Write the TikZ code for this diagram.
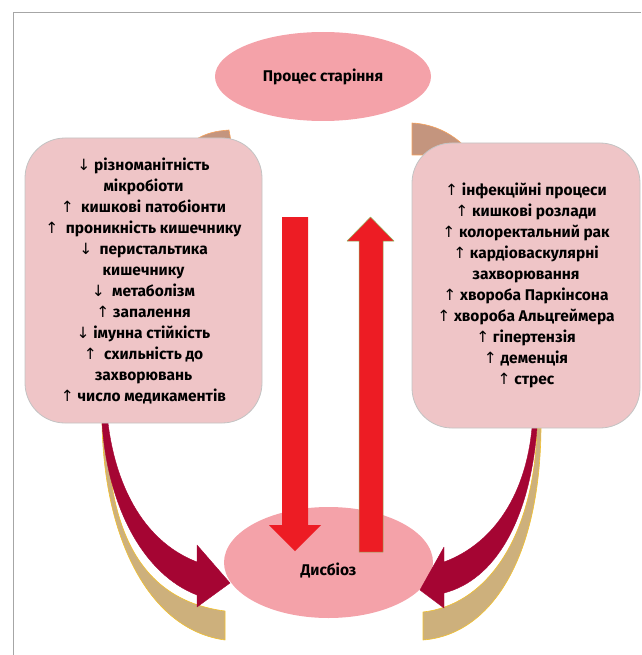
\documentclass[tikz,border=0pt]{standalone}
\usepackage{fontspec}
\setmainfont{Fira Sans}
\newfontfamily\arrowfont{DejaVu Sans}
\usetikzlibrary{shapes.geometric}

\newcommand{\arrup}{{\arrowfont\mdseries ↑}}
\newcommand{\arrdn}{{\arrowfont\mdseries ↓}}

\definecolor{ellpink}{HTML}{F4A2A9}
\definecolor{boxpink}{HTML}{EFC5C7}
\definecolor{boxline}{HTML}{C3C3C3}
\definecolor{arrowred}{HTML}{ED1C24}
\definecolor{arrowgreen}{HTML}{8DB35A}
\definecolor{wine}{HTML}{A50533}
\definecolor{sand}{HTML}{CDB07C}
\definecolor{sandline}{HTML}{F2C12E}
\definecolor{clay}{HTML}{C4957E}
\definecolor{clayline}{HTML}{F5A25D}
\definecolor{framegray}{HTML}{A6A6A6}

\tikzset{
  ell/.style={ellipse, fill=ellpink, draw=none, inner sep=0pt,
    font=\bfseries\fontsize{15.5}{18}\selectfont},
  listbox/.style={rectangle, rounded corners=40pt, fill=boxpink, draw=boxline,
    line width=0.8pt, align=center, inner sep=0pt,
    font=\bfseries\fontsize{15.5}{21}\selectfont},
  bigarrow/.style={fill=arrowred},
  curvearrow/.style={fill=wine, draw=wine, line width=0.4pt},
  curveband/.style={fill=sand, draw=sandline, line width=0.6pt},
  topband/.style={fill=clay, draw=clayline, line width=0.6pt},
}

\begin{document}
\begin{tikzpicture}[x=1pt,y=-1pt,line join=round]
\useasboundingbox (0,0) rectangle (641,655);
%% frame
\draw[framegray, line width=1pt] (13,655) -- (13,13) -- (641,13);
%% ellipses
\node (ageing) at (323,76.5) [ell, minimum width=216, minimum height=89] {Процес старіння};
\node (dysb) at (328.5,562.5) [ell, minimum width=209, minimum height=111,
  text height=28pt, text depth=3pt] {Дисбіоз};
%% pieces behind the boxes
\draw[topband] (195,140) .. controls (206,133) and (216,131) .. (229,130) -- (231,141) -- cycle;
\draw[topband] (412,123) .. controls (435,124) and (455,135) .. (468,150) -- (468,155) -- (412,155) -- cycle;
%% left curved arrow
\draw[curveband] (102,423) .. controls (104,540) and (150,630) .. (225,640)
  -- (225,611) .. controls (140,600) and (108,530) .. (107,423) -- cycle;
\draw[curvearrow] (102,423) .. controls (108,510) and (145,575) .. (197,595)
  -- (197,607) -- (230,583) -- (197,545) -- (197,562)
  .. controls (140,540) and (115,480) .. (108,423) -- cycle;
%% right curved arrow
\draw[curveband] (541,428) .. controls (540,560) and (490,635) .. (423,640)
  -- (423,612) .. controls (485,605) and (534,540) .. (537,428) -- cycle;
\draw[curvearrow] (537,428) .. controls (530,520) and (495,580) .. (444,593)
  -- (444,608) -- (420,590) -- (444,547) -- (444,562)
  .. controls (490,545) and (525,500) .. (532,428) -- cycle;
%% boxes
\node (causes) at (143.5,280.5) [listbox, minimum width=237, minimum height=285]
  {\arrdn{} різноманітність\\ мікробіоти\\ \arrup\ \ кишкові патобіонти\\
   \arrup\ \ проникність кишечнику\\ \arrdn\ \ перистальтика\\ кишечнику\\
   \arrdn\ \ метаболізм\\ \arrup{} запалення\\ \arrdn{} імунна стійкість\\
   \arrup\ \ схильність до\\ захворювань\\ \arrup{} число медикаментів};
\node (effects) at (526,285.5) [listbox, minimum width=228, minimum height=285]
  {\arrup{} інфекційні процеси\\ \arrup{} кишкові розлади\\ \arrup{} колоректальний рак\\
   \arrup{} кардіоваскулярні\\ захворювання\\ \arrup{} хвороба Паркінсона\\
   \arrup{} хвороба Альцгеймера\\ \arrup{} гіпертензія\\ \arrup{} деменція\\ \arrup{} стрес};
%% straight arrows
\coordinate (downtip) at (295,551);
\coordinate (uptip) at (370.5,217);
\fill[bigarrow] (282,217) -- (308,217) -- (308,525) -- (321,525) -- (downtip)
  -- (269,525) -- (282,525) -- cycle;
\draw[bigarrow, draw=arrowgreen, line width=0.5pt] (359,552) -- (359,241) -- (347,241) -- (uptip)
  -- (394,241) -- (383,241) -- (383,552) -- cycle;
%
\end{tikzpicture}
\end{document}
